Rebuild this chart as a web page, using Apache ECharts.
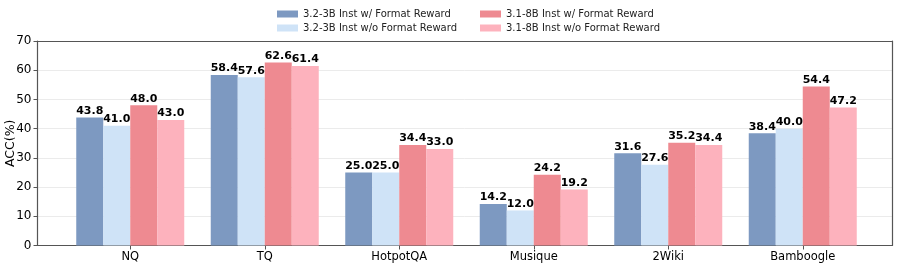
<!DOCTYPE html>
<html>
<head>
<meta charset="utf-8">
<script src="https://cdn.jsdelivr.net/npm/echarts@6/dist/echarts.min.js"></script>
<style>html,body{margin:0;padding:0;background:#fff}#c{width:897px;height:266px}</style>
</head>
<body>
<div id="c"></div>
<script>
const categories = ['NQ', 'TQ', 'HotpotQA', 'Musique', '2Wiki', 'Bamboogle'];
const seriesNames = ['3.2-3B Inst w/ Format Reward', '3.2-3B Inst w/o Format Reward', '3.1-8B Inst w/ Format Reward', '3.1-8B Inst w/o Format Reward'];
const s32With = [43.8, 58.4, 25.0, 14.2, 31.6, 38.4];
const s32Without = [41.0, 57.6, 25.0, 12.0, 27.6, 40.0];
const s31With = [48.0, 62.6, 34.4, 24.2, 35.2, 54.4];
const s31Without = [43.0, 61.4, 33.0, 19.2, 34.4, 47.2];
const yTicks = [0, 10, 20, 30, 40, 50, 60, 70];
const colors = ['#7d99c1', '#cfe3f7', '#ee8a91', '#fdb2bd'];
const allData = [s32With, s32Without, s31With, s31Without];

const font = 'DejaVu Sans';
const frameColor = '#555';
const chart = echarts.init(document.getElementById('c'), null, {renderer: 'canvas'});
const series = allData.map((d, i) => ({
  name: seriesNames[i],
  type: 'bar',
  xAxisIndex: 1,
  yAxisIndex: 1,
  data: d,
  barWidth: 27,
  barGap: '0%',
  itemStyle: {color: colors[i]},
  label: {
    show: true, position: 'top', distance: 1,
    fontFamily: font, fontWeight: 'bold', fontSize: 11, color: '#000',
    formatter: p => p.value.toFixed(1)
  }
}));
const legendCommon = {
  orient: 'vertical', top: 3,
  itemWidth: 21, itemHeight: 7, itemGap: 2,
  textStyle: {fontFamily: font, fontSize: 10, color: '#222', lineHeight: 12},
  icon: 'rect'
};
const frameAxis = (pos) => ({
  gridIndex: 0, type: 'value', min: 0, max: 1, position: pos,
  axisLine: {show: true, onZero: false, lineStyle: {color: frameColor, width: 1.2}},
  axisTick: {show: false}, axisLabel: {show: false}, splitLine: {show: false}
});
chart.setOption({
  animation: false,
  textStyle: {fontFamily: font},
  legend: [
    Object.assign({data: [seriesNames[0], seriesNames[1]], left: 272}, legendCommon),
    Object.assign({data: [seriesNames[2], seriesNames[3]], left: 475}, legendCommon)
  ],
  grid: [
    {left: 37.5, right: 5, top: 41, bottom: 20.5, outerBoundsMode: 'none', containLabel: false},
    {left: 63, right: 27, top: 41, bottom: 20.5, outerBoundsMode: 'none', containLabel: false}
  ],
  xAxis: [
    frameAxis('bottom'),
    {
      gridIndex: 1, type: 'category', data: categories, boundaryGap: true,
      axisLine: {show: false},
      axisTick: {show: true, alignWithLabel: true, length: 4, lineStyle: {color: frameColor}},
      axisLabel: {fontFamily: font, fontSize: 11.5, color: '#000', margin: 6},
      splitLine: {show: false}
    },
    frameAxis('top')
  ],
  yAxis: [
    {
      gridIndex: 0, type: 'value', min: 0, max: 70, interval: 10, position: 'left',
      name: 'ACC(%)', nameLocation: 'middle', nameGap: 20.5, nameMoveOverlap: false,
      nameTextStyle: {fontFamily: font, fontSize: 12.5, color: '#000'},
      axisLine: {show: true, onZero: false, lineStyle: {color: frameColor, width: 1.2}},
      axisTick: {show: true, length: 4, lineStyle: {color: frameColor}},
      axisLabel: {fontFamily: font, fontSize: 12, color: '#000', margin: 6,
        formatter: v => yTicks.includes(v) ? String(v) : ''},
      splitLine: {show: true, lineStyle: {color: '#ebebeb', width: 1}}
    },
    {gridIndex: 1, type: 'value', min: 0, max: 70, show: false, splitLine: {show: false}, axisTick: {show: false}, axisLabel: {show: false}},
    {
      gridIndex: 0, type: 'value', min: 0, max: 70, position: 'right',
      axisLine: {show: true, onZero: false, lineStyle: {color: frameColor, width: 1.2}},
      axisTick: {show: false}, axisLabel: {show: false}, splitLine: {show: false}
    }
  ],
  series: series
});
</script>
</body>
</html>
